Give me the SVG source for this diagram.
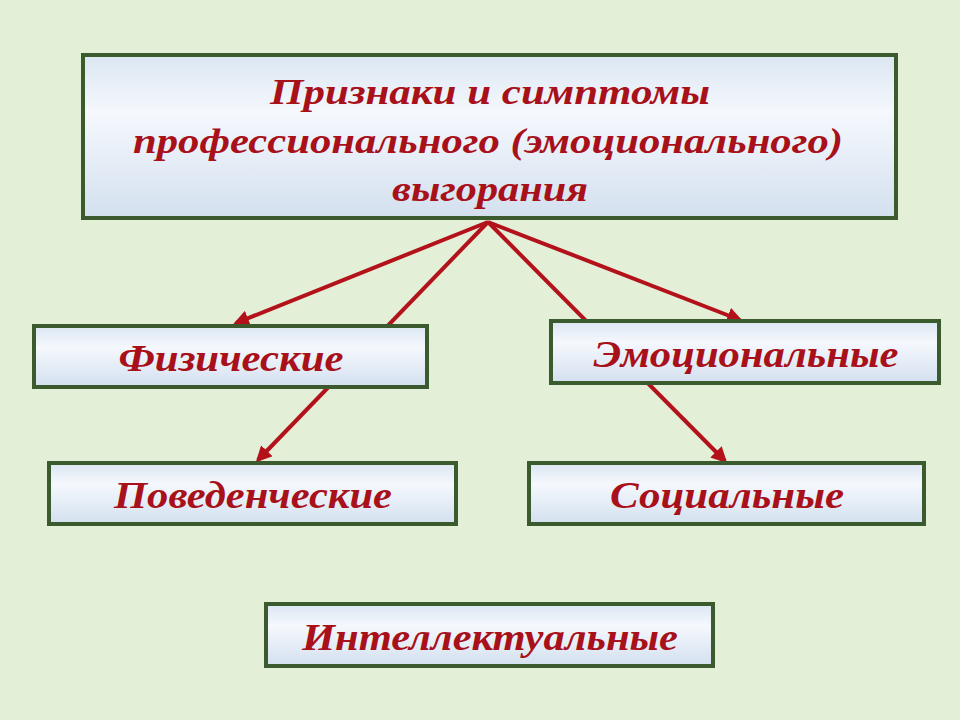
<svg xmlns="http://www.w3.org/2000/svg" width="960" height="720" viewBox="0 0 960 720">
<style>
.b{stroke:#3b5a2e;stroke-width:4;fill:url(#g)}
.t{font-family:"Liberation Serif",serif;font-weight:bold;font-style:italic;fill:#a8101a;text-anchor:middle}
.c{stroke:#b3121b;stroke-width:4;fill:none}
</style>
<defs>
<linearGradient id="g" x1="0" y1="0" x2="0" y2="1"><stop offset="0" stop-color="#dbe6f2"/><stop offset="0.35" stop-color="#f5f8fd"/><stop offset="1" stop-color="#d3e0ef"/></linearGradient>
<marker id="a" viewBox="0 0 10 10" refX="8" refY="5" markerWidth="4" markerHeight="4" orient="auto"><path d="M0,0L10,5L0,10z" fill="#b3121b"/></marker>
</defs>
<rect width="960" height="720" fill="#e3efd7"/>
<g id="connectors">
<line class="c" x1="488" y1="222" x2="236" y2="323" marker-end="url(#a)"/>
<line class="c" x1="488" y1="222" x2="258" y2="460" marker-end="url(#a)"/>
<line class="c" x1="488" y1="222" x2="740" y2="320" marker-end="url(#a)"/>
<line class="c" x1="488" y1="222" x2="725" y2="461" marker-end="url(#a)"/>
</g>
<g id="title"><rect class="b" x="83" y="55" width="813" height="163"/>
<text class="t" font-size="36" x="490" y="104" textLength="440" lengthAdjust="spacingAndGlyphs">Признаки и симптомы</text>
<text class="t" font-size="36" x="488" y="153" textLength="710" lengthAdjust="spacingAndGlyphs">профессионального (эмоционального)</text>
<text class="t" font-size="36" x="490" y="201" textLength="196" lengthAdjust="spacingAndGlyphs">выгорания</text></g>
<g id="fiz"><rect class="b" x="34" y="326" width="393" height="61"/><text class="t" font-size="37" x="231" y="371" textLength="225" lengthAdjust="spacingAndGlyphs">Физические</text></g>
<g id="emo"><rect class="b" x="551" y="321" width="388" height="62"/><text class="t" font-size="37" x="746" y="367" textLength="305" lengthAdjust="spacingAndGlyphs">Эмоциональные</text></g>
<g id="pov"><rect class="b" x="49" y="463" width="407" height="61"/><text class="t" font-size="37" x="253" y="508" textLength="278" lengthAdjust="spacingAndGlyphs">Поведенческие</text></g>
<g id="soc"><rect class="b" x="529" y="463" width="395" height="61"/><text class="t" font-size="37" x="727" y="508" textLength="234" lengthAdjust="spacingAndGlyphs">Социальные</text></g>
<g id="int"><rect class="b" x="266" y="604" width="447" height="62"/><text class="t" font-size="37" x="490" y="650" textLength="376" lengthAdjust="spacingAndGlyphs">Интеллектуальные</text></g>
</svg>
